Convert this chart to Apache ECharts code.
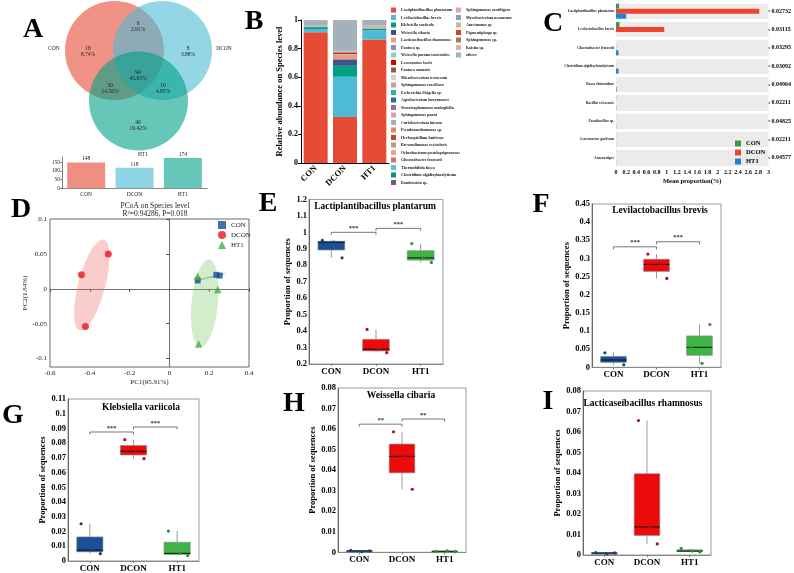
<!DOCTYPE html>
<html>
<head>
<meta charset="utf-8">
<script src="https://cdn.jsdelivr.net/npm/echarts@6/dist/echarts.min.js"></script>
<style>
  html, body { margin: 0; padding: 0; background: #fff; }
  #main { width: 794px; height: 573px; }
</style>
</head>
<body>
<div id="main"></div>
<script>
// ---------- data ----------
var groups = ['CON', 'DCON', 'HT1'];

// A: venn region counts (CON only, CON&DCON, DCON only, all three, CON&HT1, DCON&HT1, HT1 only)
var vennRegions = [18, 6, 8, 94, 30, 10, 40];
var vennTotals = [148, 118, 174];

// B: relative abundance on species level
var speciesNames = ['Lactiplantibacillus plantarum', 'Levilactobacillus brevis', 'Klebsiella variicola',
  'Weissella cibaria', 'Lacticaseibacillus rhamnosus', 'Pantoea sp.', 'Weissella paramesenteroides',
  'Leuconostoc lactis', 'Pantoea ananatis', 'Microbacterium testaceum', 'Sphingomonas roseiflava',
  'Escherichia-Shigella sp.', 'Agrobacterium larrymoorei', 'Stenotrophomonas maltophilia',
  'Sphingomonas panni', 'Curtobacterium luteum', 'Pseudoxanthomonas sp.', 'Herbaspirillum huttiense',
  'Brevundimonas vesicularis', 'Ochrobactrum pseudogrignonense', 'Gluconobacter frateurii',
  'Thermobifida fusca', 'Clostridium algidixylanolyticum', 'Romboutsia sp.',
  'Sphingomonas azotifigens', 'Mycobacterium neoaurum', 'Aureimonas sp.', 'Pigmentiphaga sp.',
  'Sphingomonas sp.', 'Kaistia sp.', 'others'];
var abundCON = [0.915, 0.022, 0.013, 0.0006, 0.001, 0.001, 0.0005, 0.0005, 0.001, 0.001, 0.001,
  0.0005, 0.0005, 0.0005, 0.0005, 0.0005, 0.0005, 0.0005, 0.0005, 0.0005, 0.0003, 0.0003, 0.0003, 0.0003,
  0.0003, 0.0003, 0.0003, 0.0003, 0.0003, 0.0003, 0.035];
var abundDCON = [0.322, 0.281, 0.077, 0.045, 0.03, 0.004, 0.004, 0.009, 0.002, 0.001, 0.001,
  0.002, 0.0005, 0.001, 0.0005, 0.0005, 0.0005, 0.0005, 0.0005, 0.0005, 0.0002, 0.0003, 0.0002, 0.0005,
  0.0003, 0.0003, 0.0003, 0.0003, 0.0003, 0.0003, 0.214];
var abundHT1 = [0.864, 0.064, 0.01, 0.0005, 0.002, 0.001, 0.0005, 0.0005, 0.001, 0.0015, 0.002,
  0.0005, 0.001, 0.001, 0.0015, 0.001, 0.001, 0.001, 0.001, 0.001, 0.001, 0.0005, 0.001, 0.0003,
  0.001, 0.0005, 0.0005, 0.0005, 0.0005, 0.0005, 0.039];
var speciesColors = ['#e64b35', '#4dbbd5', '#00a087', '#3c5488', '#f39b7f', '#8491b4', '#91d1c2',
  '#dc0000', '#7e6148', '#d2d2d2', '#d59a8e', '#29b5b0', '#2b6e8a', '#9b6f92', '#d5a1b2', '#8fb5c9',
  '#df8a62', '#c04a2a', '#b09f8f', '#f3a08c', '#e0705c', '#4fc6d4', '#1a8a7e', '#6b5b8d', '#e6a59c',
  '#8aa0ba', '#c8b795', '#d9401c', '#9b7b66', '#e2b0a6', '#a4b1bb'];

// C: mean proportion(%) of differential species
var diffSpecies = ['Lactiplantibacillus plantarum', 'Levilactobacillus brevis', 'Gluconobacter frateurii',
  'Clostridium algidixylanolyticum', 'Bosea thiooxidans', 'Bacillus velezensis', 'Paenibacillus sp.',
  'Leuconostoc garlicum', 'Anaerostipes'];
var diffCON = [0.06, 0.07, 0, 0, 0, 0.003, 0.002, 0.002, 0.002];
var diffDCON = [2.82, 0.95, 0.004, 0.003, 0.001, 0, 0, 0, 0];
var diffHT1 = [0.2, 0, 0.05, 0.05, 0.012, 0.006, 0.004, 0.003, 0.003];
var diffP = ['0.02732', '0.03115', '0.03295', '0.03092', '0.04964', '0.02211', '0.04825', '0.02211', '0.04577'];

// D: PCoA coordinates [PC1, PC2]
var pcoaCON = [[0.142, 0.012], [0.236, 0.020], [0.253, 0.019]];
var pcoaDCON = [[-0.307, 0.050], [-0.442, 0.020], [-0.422, -0.054]];
var pcoaHT1 = [[0.142, 0.018], [0.243, -0.001], [0.147, -0.079]];

// E-I: proportion of sequences per sample, [CON, DCON, HT1]
var plantarum = [[0.951, 0.940, 0.845], [0.41, 0.29, 0.269], [0.932, 0.845, 0.817]];
var brevis = [[0.040, 0.020, 0.007], [0.312, 0.2835, 0.245], [0.055, 0.011, 0.118]];
var klebsiella = [[0.0253, 0.0074, 0.005], [0.0824, 0.0745, 0.0695], [0.0203, 0.0052, 0.0037]];
var weissella = [[0.0009, 0.0003, 0.0007], [0.0587, 0.0467, 0.0307], [0.0005, 0.0007, 0.0003]];
var rhamnosus = [[0.0012, 0.0005, 0.001], [0.0656, 0.0137, 0.0054], [0.0032, 0.0019, 0.0015]];
// significance brackets: [from, to, height, label]
var sigE = [[0, 1, 1.0, '***'], [1, 2, 1.024, '***']];
var sigF = [[0, 1, 0.332, '***'], [1, 2, 0.346, '***']];
var sigG = [[0, 1, 0.0876, '***'], [1, 2, 0.091, '***']];
var sigH = [[0, 1, 0.0624, '**'], [1, 2, 0.0649, '**']];

// ---------- helpers ----------
var font = "'Liberation Serif', 'Times New Roman', serif";
var boxFill = ['#1c4f98', '#ec0a0a', '#3db444'];
var dotFill = ['#173f7c', '#a5141a', '#2f8f38'];

var option = {
  animation: false,
  textStyle: { fontFamily: font },
  grid: [], xAxis: [], yAxis: [], series: [], legend: [], graphic: []
};

function text(x, y, str, size, bold, extra) {
  var st = { text: str, fontSize: size, fontWeight: bold ? 'bold' : 'normal', fontFamily: font,
    fill: '#111', align: 'center', verticalAlign: 'middle' };
  for (var k in extra || {}) st[k] = extra[k];
  option.graphic.push({ type: 'text', x: x, y: y, silent: true, style: st });
}

function addGrid(rect) {
  rect.containLabel = false;
  option.grid.push(rect);
  return option.grid.length - 1;
}

function quantile(s, p) {
  var h = (s.length - 1) * p, lo = Math.floor(h);
  var hi = Math.min(lo + 1, s.length - 1);
  return s[lo] + (h - lo) * (s[hi] - s[lo]);
}

// panel letters
[['A', 33, 30], ['B', 254, 22], ['C', 553, 24], ['D', 21, 210], ['E', 268, 204],
 ['F', 541, 205], ['G', 13, 416], ['H', 294, 404], ['I', 548, 402]].forEach(function (l) {
  text(l[1], l[2], l[0], 28, true, { fill: '#000' });
});

// ---------- A: venn ----------
var vennCircles = [[114.5, 50.5, 'rgba(230,75,53,0.6)'], [162.5, 50.5, 'rgba(77,187,213,0.6)'],
  [138.5, 101, 'rgba(0,160,135,0.6)']];
vennCircles.forEach(function (c) {
  option.graphic.push({ type: 'circle', silent: true, shape: { cx: c[0], cy: c[1], r: 49.5 },
    style: { fill: c[2] } });
});
var vennTotal = vennRegions.reduce(function (a, b) { return a + b; }, 0);
var vennPos = [[88, 51.5], [138, 26.5], [188, 51.5], [138, 75.5], [110, 88.5], [163, 88.5], [138, 125.5]];
vennRegions.forEach(function (n, i) {
  text(vennPos[i][0], vennPos[i][1], n + '\n' + (n / vennTotal * 100).toFixed(2) + '%', 5.5, false,
    { lineHeight: 6, fill: '#222' });
});
text(54, 49, 'CON', 5.5, false, { fill: '#222' });
text(224, 49, 'DCON', 5.5, false, { fill: '#222' });
text(143, 155, 'HT1', 5.5, false, { fill: '#222' });

var gA = addGrid({ left: 62, top: 157, width: 145, height: 31.2 });
option.xAxis.push({ gridIndex: gA, type: 'category', data: groups,
  axisLabel: { fontSize: 5.5, margin: 3, color: '#222' }, axisTick: { show: false },
  axisLine: { lineStyle: { color: '#333', width: 0.6 } } });
var yA = option.yAxis.push({ gridIndex: gA, type: 'value', min: 0, max: 180,
  axisLabel: { fontSize: 5.5, margin: 2, color: '#222', customValues: [0, 50, 100, 150] },
  axisTick: { show: true, length: 2, customValues: [0, 50, 100, 150], lineStyle: { width: 0.6 } },
  axisLine: { show: true, lineStyle: { color: '#333', width: 0.6 } }, splitLine: { show: false } }) - 1;
option.series.push({ type: 'bar', name: 'vennBar', xAxisIndex: option.xAxis.length - 1, yAxisIndex: yA,
  barWidth: 38,
  data: vennTotals.map(function (v, i) {
    return { value: v, itemStyle: { color: ['#ef8f82', '#8fd4e4', '#66c6b7'][i] } };
  }),
  label: { show: true, position: 'top', distance: 0.5, fontSize: 5.5, color: '#222' } });

// ---------- B: stacked species abundance ----------
var gB = addGrid({ left: 301, top: 20, width: 88, height: 143 });
var xB = option.xAxis.push({ gridIndex: gB, type: 'category', data: groups,
  axisLabel: { rotate: 45, fontSize: 8.5, fontWeight: 'bold', color: '#000', margin: 4, interval: 0 },
  axisTick: { show: false }, axisLine: { lineStyle: { color: '#000' } } }) - 1;
var yB = option.yAxis.push({ gridIndex: gB, type: 'value', min: 0, max: 1, interval: 0.2,
  name: 'Relative abundance on Species level', nameLocation: 'middle', nameGap: 15,
  nameTextStyle: { fontSize: 8.5, fontWeight: 'bold', color: '#000' },
  axisLabel: { fontSize: 8, fontWeight: 'bold', color: '#000', margin: 3 },
  axisTick: { show: true, length: 3 }, axisLine: { show: true, lineStyle: { color: '#000' } },
  splitLine: { show: false } }) - 1;
speciesNames.forEach(function (name, i) {
  option.series.push({ type: 'bar', name: name, stack: 'abund', xAxisIndex: xB, yAxisIndex: yB,
    barWidth: 24, itemStyle: { color: speciesColors[i] },
    data: [abundCON[i], abundDCON[i], abundHT1[i]] });
});
[[391, speciesNames.slice(0, 24)], [456, speciesNames.slice(24)]].forEach(function (c) {
  option.legend.push({ left: c[0], top: 7.5, orient: 'vertical', data: c[1], selectedMode: false,
    icon: 'rect', itemWidth: 5, itemHeight: 5, itemGap: 2.5, padding: 0,
    textStyle: { fontSize: 4, lineHeight: 5, fontWeight: 'bold', color: '#222', fontFamily: font } });
});

// ---------- C: differential species ----------
var gC = addGrid({ left: 616, top: 2, width: 153, height: 165 });
var xC = option.xAxis.push({ gridIndex: gC, type: 'value', min: 0, max: 3, interval: 0.2,
  name: 'Mean proportion(%)', nameLocation: 'middle', nameGap: 11,
  nameTextStyle: { fontSize: 6.5, fontWeight: 'bold', color: '#000' },
  axisLabel: { fontSize: 6, fontWeight: 'bold', color: '#000', margin: 2 },
  axisTick: { length: 2 }, axisLine: { lineStyle: { color: '#000', width: 0.8 } },
  splitLine: { show: false } }) - 1;
var yC = option.yAxis.push({ gridIndex: gC, type: 'category', data: diffSpecies, inverse: true,
  axisLabel: { fontSize: 3.6, fontWeight: 'bold', color: '#222', margin: 2 },
  axisTick: { show: false }, axisLine: { show: false },
  splitArea: { show: true, areaStyle: { color: ['#ebebeb', '#ebebeb'] } },
  splitLine: { show: true, lineStyle: { color: '#fff', width: 3 } } }) - 1;
var yC2 = option.yAxis.push({ gridIndex: gC, type: 'category', data: diffP, inverse: true, position: 'right',
  axisLabel: { fontSize: 6, fontWeight: 'bold', color: '#000', margin: 3 },
  axisTick: { show: true, alignWithLabel: true, length: 1.5, lineStyle: { color: '#e33', width: 1.5 } },
  axisLine: { show: false }, splitLine: { show: false } }) - 1;
[['CON', diffCON, '#3a9a48'], ['DCON', diffDCON, '#f04433'], ['HT1', diffHT1, '#1f82d2']].forEach(function (s) {
  option.series.push({ type: 'bar', name: s[0], xAxisIndex: xC, yAxisIndex: yC, data: s[1],
    barWidth: 5, barGap: '0%', itemStyle: { color: s[2] } });
});
option.legend.push({ left: 735, top: 140, orient: 'vertical', data: groups, selectedMode: false,
  icon: 'rect', itemWidth: 6, itemHeight: 6, itemGap: 2, padding: 0,
  textStyle: { fontSize: 6.5, lineHeight: 6, fontWeight: 'bold', color: '#000', fontFamily: font } });

// ---------- D: PCoA ----------
var gD = addGrid({ left: 50, top: 219, width: 199, height: 148, show: true, borderColor: '#444', borderWidth: 0.8 });
var xD = option.xAxis.push({ gridIndex: gD, type: 'value', min: -0.6, max: 0.4, interval: 0.2,
  name: 'PC1(95.91%)', nameLocation: 'middle', nameGap: 12,
  nameTextStyle: { fontSize: 7, color: '#222' },
  axisLabel: { fontSize: 7, color: '#222', margin: 3 }, axisTick: { length: 3 },
  axisLine: { lineStyle: { color: '#444', width: 0.8 } }, splitLine: { show: false } }) - 1;
var yD = option.yAxis.push({ gridIndex: gD, type: 'value', min: -0.112, max: 0.1,
  name: 'PC2(1.84%)', nameLocation: 'middle', nameGap: 16,
  nameTextStyle: { fontSize: 7, color: '#222' },
  axisLabel: { fontSize: 7, color: '#222', margin: 3, customValues: [-0.1, -0.05, 0, 0.05, 0.1] },
  axisTick: { length: 3, customValues: [-0.1, -0.05, 0, 0.05, 0.1] },
  axisLine: { show: true, lineStyle: { color: '#444', width: 0.8 } }, splitLine: { show: false } }) - 1;
text(155, 206, 'PCoA on Species level', 7.5, false, { fill: '#222' });
text(155, 214, 'R\u00b2=0.94286, P=0.018', 7.5, false, { fill: '#222' });

var pcoaGroups = [
  ['D-CON', pcoaCON, '#1b4d94', 'rect', 6, 'rgba(70,130,185,0.5)'],
  ['D-DCON', pcoaDCON, '#e8141c', 'circle', 7, 'rgba(240,110,110,0.35)'],
  ['D-HT1', pcoaHT1, '#3cb043', 'triangle', 7.5, 'rgba(130,200,110,0.35)']
];
// confidence-style ellipse from each group's covariance
pcoaGroups.forEach(function (g) {
  var pts = g[1], n = pts.length;
  var mx = pts.reduce(function (a, p) { return a + p[0]; }, 0) / n;
  var my = pts.reduce(function (a, p) { return a + p[1]; }, 0) / n;
  option.series.push({ type: 'custom', name: 'ell' + g[0], xAxisIndex: xD, yAxisIndex: yD, z: 1,
    data: [[mx, my]], silent: true,
    renderItem: function (params, api) {
      var vx = 0, vy = 0, cxy = 0;
      pts.forEach(function (p) {
        vx += (p[0] - mx) * (p[0] - mx); vy += (p[1] - my) * (p[1] - my); cxy += (p[0] - mx) * (p[1] - my);
      });
      vx /= n - 1; vy /= n - 1; cxy /= n - 1;
      var a = Math.sqrt(vx), b = cxy / a, c = Math.sqrt(Math.max(vy - b * b, 1e-7));
      var k = 1.22, poly = [];
      for (var t = 0; t < 72; t++) {
        var th = t / 72 * Math.PI * 2;
        poly.push(api.coord([mx + k * a * Math.cos(th), my + k * (b * Math.cos(th) + c * Math.sin(th))]));
      }
      return { type: 'polygon', shape: { points: poly }, style: { fill: g[5] } };
    } });
});
pcoaGroups.forEach(function (g, i) {
  var s = { type: 'scatter', name: g[0], xAxisIndex: xD, yAxisIndex: yD, z: 3, data: g[1],
    symbol: g[3], symbolSize: g[4], itemStyle: { color: g[2] } };
  if (i === 0) {
    s.markLine = { silent: true, symbol: ['none', 'none'], label: { show: false },
      lineStyle: { type: 'dashed', color: '#777', width: 0.8 },
      data: [{ xAxis: 0 }, { yAxis: 0 }] };
  }
  option.series.push(s);
});
option.legend.push({ left: 218, top: 221, orient: 'vertical', selectedMode: false,
  data: pcoaGroups.map(function (g) { return g[0]; }),
  formatter: function (name) { return name.replace(/^D-/, ''); },
  itemWidth: 8, itemHeight: 8, itemGap: 2, padding: 0,
  textStyle: { fontSize: 7, lineHeight: 8, color: '#222', fontFamily: font } });

// ---------- E-I: box plots ----------
var jitter = [-0.2, 0.06, 0.24];

function boxPanel(rect, title, titlePos, samples, yMin, yMax, step, nameGap, sig) {
  rect.show = true; rect.borderColor = '#999'; rect.borderWidth = 1;
  var gi = addGrid(rect);
  var xi = option.xAxis.push({ gridIndex: gi, type: 'category', data: groups,
    axisLabel: { fontSize: 9, fontWeight: 'bold', color: '#000', margin: 3 },
    axisTick: { show: true, alignWithLabel: true, length: 2, lineStyle: { color: '#777' } },
    axisLine: { lineStyle: { color: '#888' } } }) - 1;
  var yi = option.yAxis.push({ gridIndex: gi, type: 'value', min: yMin, max: yMax, interval: step,
    name: 'Proportion of sequences', nameLocation: 'middle', nameGap: nameGap,
    nameTextStyle: { fontSize: 8.5, fontWeight: 'bold', color: '#000' },
    axisLabel: { fontSize: 8.5, fontWeight: 'bold', color: '#000', margin: 2 },
    axisTick: { length: 2.5, lineStyle: { color: '#666' } },
    axisLine: { show: true, lineStyle: { color: '#666' } }, splitLine: { show: false } }) - 1;
  text(titlePos[0], titlePos[1], title, 9.5, true, { fill: '#000' });

  option.series.push({ type: 'custom', name: 'box ' + title, xAxisIndex: xi, yAxisIndex: yi, z: 2,
    data: samples.map(function (s, i) { return [i, quantile(s.slice().sort(function (a, b) { return a - b; }), 0.5)]; }),
    renderItem: function (params, api) {
      var i = params.dataIndex;
      var s = samples[i].slice().sort(function (a, b) { return a - b; });
      var q1 = quantile(s, 0.25), md = quantile(s, 0.5), q3 = quantile(s, 0.75);
      var band = api.size([1, 0])[0];
      var cx = api.coord([i, md])[0];
      var Y = function (v) { return api.coord([i, v])[1]; };
      var half = band * 0.3;
      var kids = [
        { type: 'line', shape: { x1: cx, y1: Y(s[0]), x2: cx, y2: Y(q1) }, style: { stroke: '#999', lineWidth: 1 } },
        { type: 'line', shape: { x1: cx, y1: Y(q3), x2: cx, y2: Y(s[s.length - 1]) }, style: { stroke: '#999', lineWidth: 1 } },
        { type: 'rect', shape: { x: cx - half, y: Y(q3), width: half * 2, height: Math.max(Y(q1) - Y(q3), 1.5) },
          style: { fill: boxFill[i], stroke: '#8a8a8a', lineWidth: 0.6 } },
        { type: 'line', shape: { x1: cx - half, y1: Y(md), x2: cx + half, y2: Y(md) }, style: { stroke: '#111', lineWidth: 1 } }
      ];
      samples[i].forEach(function (v, k) {
        kids.push({ type: 'circle', shape: { cx: cx + jitter[k] * band, cy: Y(v), r: 1.6 },
          style: { fill: dotFill[i] } });
      });
      return { type: 'group', children: kids };
    } });

  if (sig) {
    option.series.push({ type: 'custom', name: 'sig ' + title, xAxisIndex: xi, yAxisIndex: yi, z: 3,
      data: sig.map(function (d) { return [d[0], d[2]]; }),
      renderItem: function (params, api) {
        var d = sig[params.dataIndex];
        var p0 = api.coord([d[0], d[2]]), p1 = api.coord([d[1], d[2]]);
        return { type: 'group', children: [
          { type: 'polyline', shape: { points: [[p0[0], p0[1] + 2.5], [p0[0], p0[1]], [p1[0], p1[1]], [p1[0], p1[1] + 2.5]] },
            style: { stroke: '#555', lineWidth: 0.8, fill: null } },
          { type: 'text', style: { x: (p0[0] + p1[0]) / 2, y: p0[1] - 0.5, text: d[3], fontSize: 6.5,
            fontWeight: 'bold', fill: '#333', align: 'center', verticalAlign: 'bottom', fontFamily: font } }
        ] };
      } });
  }
}

boxPanel({ left: 309, top: 199.4, width: 134, height: 164.6 }, 'Lactiplantibacillus plantarum', [375, 207],
  plantarum, 0.2, 1.2, 0.1, 12, sigE);
boxPanel({ left: 592, top: 204, width: 129, height: 163.3 }, 'Levilactobacillus brevis', [660, 211],
  brevis, 0, 0.45, 0.05, 17, sigF);
boxPanel({ left: 68, top: 399, width: 131, height: 162.7 }, 'Klebsiella variicola', [141, 408],
  klebsiella, 0, 0.11, 0.01, 14, sigG);
boxPanel({ left: 338, top: 388, width: 128, height: 164.3 }, 'Weissella cibaria', [401, 396],
  weissella, 0, 0.08, 0.01, 19, sigH);
boxPanel({ left: 583, top: 391, width: 128, height: 164 }, 'Lacticaseibacillus rhamnosus', [643, 404],
  rhamnosus, 0, 0.08, 0.01, 18, null);

var chart = echarts.init(document.getElementById('main'));
chart.setOption(option);
</script>
</body>
</html>
